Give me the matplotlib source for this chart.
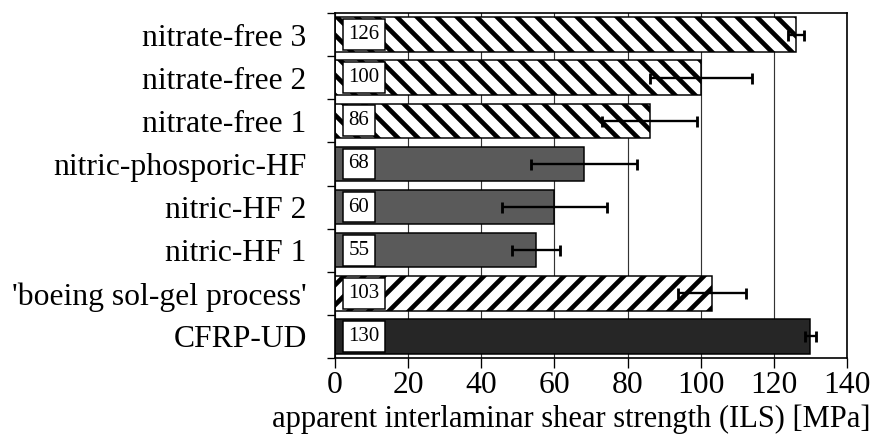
import numpy as np
import matplotlib
matplotlib.use('Agg')
import matplotlib.pyplot as plt

# data, bottom to top
labels = ['CFRP-UD', "'boeing sol-gel process'", 'nitric-HF 1', 'nitric-HF 2',
          'nitric-phosporic-HF', 'nitrate-free 1', 'nitrate-free 2', 'nitrate-free 3']
ils = [130, 103, 55, 60, 68, 86, 100, 126]
ils_err = [1.6, 9.3, 6.5, 14.4, 14.5, 13.0, 14.0, 2.2]
xticks = [0, 20, 40, 60, 80, 100, 120, 140]

colors = ['#262626', 'white', '#5a5a5a', '#5a5a5a', '#5a5a5a', 'white', 'white', 'white']
hatches = [None, '//', None, None, None, '\\\\', '\\\\', '\\\\']

plt.rcParams['font.family'] = ['Liberation Serif', 'DejaVu Serif']
plt.rcParams['hatch.linewidth'] = 2.8

dpi = 120
fig = plt.figure(figsize=(874 / dpi, 441 / dpi), dpi=dpi)
ax = fig.add_axes([335 / 874, 1 - 358 / 441, 512 / 874, 345 / 441])

y = np.arange(len(labels))
ax.set_axisbelow(True)
ax.grid(axis='x', color='#333333', linewidth=0.7)
for i in range(len(labels)):
    ax.barh(y[i], ils[i], height=0.8, color=colors[i], edgecolor='black',
            linewidth=0.9, hatch=hatches[i], zorder=2)
ax.errorbar(ils, y, xerr=ils_err, fmt='none', ecolor='black', elinewidth=1.4,
            capsize=3.3, capthick=1.7, zorder=3)

# value boxes at the start of each bar
for i, v in enumerate(ils):
    ax.annotate(str(v), xy=(0, y[i]), xytext=(8.0, 0), textcoords='offset points',
                ha='left', va='center', fontsize=12.5, zorder=4,
                bbox=dict(boxstyle='square,pad=0.28', fc='white', ec='black', lw=0.9))

ax.set_xlim(0, 140)
ax.set_ylim(-0.5, len(labels) - 0.5)
ax.set_xticks(xticks)
ax.set_xticklabels([str(t) for t in xticks], fontsize=19)
ax.set_yticks(y)
ax.set_yticklabels(labels, fontsize=19)
ax.set_yticks(np.arange(len(labels) + 1) - 0.5, minor=True)
ax.tick_params(axis='y', which='major', length=0, pad=17)
ax.tick_params(axis='y', which='minor', length=5, width=0.8, direction='out')
ax.tick_params(axis='x', which='major', length=6, width=0.8, direction='out', pad=2)
for s in ax.spines.values():
    s.set_linewidth(1.0)

ax.set_xlabel('apparent interlaminar shear strength (ILS) [MPa]', fontsize=18.3)
ax.xaxis.set_label_coords((571 - 335) / 512, -0.135)

fig.savefig('out.png', dpi=dpi)
